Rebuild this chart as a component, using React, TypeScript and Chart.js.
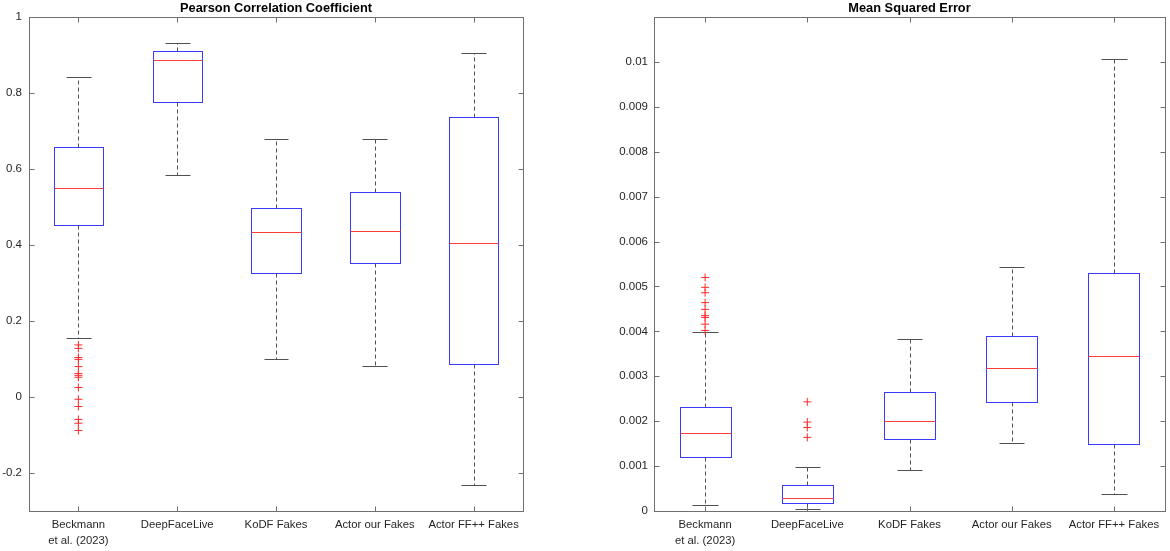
import React, { useEffect, useRef } from 'react';
import { Chart, registerables } from 'chart.js';

Chart.register(...registerables);

// ---------- data ----------
const CATEGORIES: (string | string[])[] = [
  ['Beckmann', 'et al. (2023)'],
  'DeepFaceLive',
  'KoDF Fakes',
  'Actor our Fakes',
  'Actor FF++ Fakes',
];

// Pearson correlation coefficient
const PCC_LOWER = [0.155, 0.585, 0.1, 0.081, -0.231];
const PCC_Q1 = [0.452, 0.777, 0.327, 0.353, 0.088];
const PCC_MEDIAN = [0.55, 0.886, 0.433, 0.438, 0.405];
const PCC_Q3 = [0.657, 0.911, 0.498, 0.54, 0.737];
const PCC_UPPER = [0.843, 0.931, 0.678, 0.679, 0.904];
const PCC_OUTLIERS = [
  [0.137, 0.128, 0.104, 0.099, 0.08, 0.062, 0.057, 0.052, 0.025, -0.006, -0.025, -0.059, -0.069, -0.088],
  [],
  [],
  [],
  [],
];
const PCC_TICKS = [-0.2, 0, 0.2, 0.4, 0.6, 0.8, 1];

// Mean squared error
const MSE_LOWER = [0.00013, 0.000053, 0.000907, 0.00151, 0.000374];
const MSE_Q1 = [0.001205, 0.000178, 0.0016, 0.00243, 0.00149];
const MSE_MEDIAN = [0.001737, 0.000296, 0.002, 0.00319, 0.00345];
const MSE_Q3 = [0.002317, 0.000586, 0.00264, 0.0039, 0.00529];
const MSE_UPPER = [0.003978, 0.000985, 0.00382, 0.00544, 0.01006];
const MSE_OUTLIERS = [
  [0.0052, 0.00498, 0.00486, 0.00464, 0.00449, 0.00435, 0.00431, 0.00416, 0.00402],
  [0.00243, 0.00198, 0.00186, 0.00164],
  [],
  [],
  [],
];
const MSE_TICKS = [0, 0.001, 0.002, 0.003, 0.004, 0.005, 0.006, 0.007, 0.008, 0.009, 0.01];

// ---------- styling ----------
const FONT = "'Liberation Sans', Arial, Helvetica, sans-serif";
const AXIS_COLOR = '#707070';
const TEXT_COLOR = '#262626';
const BOX_COLOR = '#3a3aff';
const MEDIAN_COLOR = '#ff3c3c';
const WHISKER_COLOR = '#505050';

interface BoxStats {
  lower: number[];
  q1: number[];
  median: number[];
  q3: number[];
  upper: number[];
}

const crisp = (v: number) => Math.round(v) + 0.5;

// draws boxes/whiskers through the chart scales, plus the MATLAB style frame
const boxPlotPlugin = {
  id: 'boxplot',
  beforeDatasetsDraw(chart: any, _args: any, opts: BoxStats) {
    const { ctx } = chart;
    const xs = chart.scales.x;
    const ys = chart.scales.y;
    ctx.save();
    ctx.lineWidth = 1;
    opts.median.forEach((_m, i) => {
      const c = i + 1;
      const xc = crisp(xs.getPixelForValue(c));
      const xl = crisp(xs.getPixelForValue(c - 0.25));
      const xr = crisp(xs.getPixelForValue(c + 0.25));
      const cl = crisp(xs.getPixelForValue(c - 0.125));
      const cr = crisp(xs.getPixelForValue(c + 0.125));
      const yLo = crisp(ys.getPixelForValue(opts.lower[i]));
      const yQ1 = crisp(ys.getPixelForValue(opts.q1[i]));
      const yMed = crisp(ys.getPixelForValue(opts.median[i]));
      const yQ3 = crisp(ys.getPixelForValue(opts.q3[i]));
      const yUp = crisp(ys.getPixelForValue(opts.upper[i]));

      // whiskers
      ctx.strokeStyle = WHISKER_COLOR;
      ctx.setLineDash([4, 3]);
      ctx.beginPath();
      ctx.moveTo(xc, yQ3);
      ctx.lineTo(xc, yUp);
      ctx.moveTo(xc, yQ1);
      ctx.lineTo(xc, yLo);
      ctx.stroke();
      ctx.setLineDash([]);
      ctx.beginPath();
      ctx.moveTo(cl, yUp);
      ctx.lineTo(cr, yUp);
      ctx.moveTo(cl, yLo);
      ctx.lineTo(cr, yLo);
      ctx.stroke();

      // box
      ctx.strokeStyle = BOX_COLOR;
      ctx.strokeRect(xl, yQ3, xr - xl, yQ1 - yQ3);

      // median
      ctx.strokeStyle = MEDIAN_COLOR;
      ctx.beginPath();
      ctx.moveTo(xl, yMed);
      ctx.lineTo(xr, yMed);
      ctx.stroke();
    });
    ctx.restore();
  },
  afterDraw(chart: any) {
    const { ctx, chartArea } = chart;
    const xs = chart.scales.x;
    const ys = chart.scales.y;
    const l = crisp(chartArea.left);
    const r = crisp(chartArea.right);
    const t = crisp(chartArea.top);
    const b = crisp(chartArea.bottom);
    const tl = 5;
    ctx.save();
    ctx.strokeStyle = AXIS_COLOR;
    ctx.lineWidth = 1;
    ctx.strokeRect(l, t, r - l, b - t);
    ctx.beginPath();
    ys.ticks.forEach((tk: any) => {
      const y = crisp(ys.getPixelForValue(tk.value));
      ctx.moveTo(l, y);
      ctx.lineTo(l + tl, y);
      ctx.moveTo(r, y);
      ctx.lineTo(r - tl, y);
    });
    xs.ticks.forEach((tk: any) => {
      const x = crisp(xs.getPixelForValue(tk.value));
      ctx.moveTo(x, b);
      ctx.lineTo(x, b - tl);
      ctx.moveTo(x, t);
      ctx.lineTo(x, t + tl);
    });
    ctx.stroke();
    ctx.restore();
  },
};

const fmt = (v: number) => String(Number(v.toFixed(4)));

interface BoxChartProps {
  title: string;
  stats: BoxStats;
  outliers: number[][];
  yTicks: number[];
  yMin: number;
  yMax: number;
  yWidth: number;
  yPad: number;
  padRight: number;
}

const BoxChart: React.FC<BoxChartProps> = ({ title, stats, outliers, yTicks, yMin, yMax, yWidth, yPad, padRight }) => {
  const canvasRef = useRef<HTMLCanvasElement>(null);

  useEffect(() => {
    if (!canvasRef.current) return;
    const points = outliers.flatMap((vals, i) => vals.map((v) => ({ x: i + 1, y: v })));
    const chart = new Chart(canvasRef.current, {
      type: 'scatter',
      data: {
        datasets: [
          {
            label: 'outliers',
            data: points,
            pointStyle: 'cross',
            radius: 4,
            hoverRadius: 4,
            borderColor: '#ff2a2a',
            backgroundColor: '#ff2a2a',
            borderWidth: 1,
          },
        ],
      },
      plugins: [boxPlotPlugin],
      options: {
        animation: false,
        responsive: true,
        maintainAspectRatio: false,
        events: [],
        layout: { padding: { left: 0, right: padRight, top: 0, bottom: 0 } },
        plugins: {
          legend: { display: false },
          tooltip: { enabled: false },
          title: {
            display: true,
            text: title,
            fullSize: false,
            color: '#000',
            font: { family: FONT, size: 12.8, weight: 'bold', lineHeight: 1.1 },
            padding: { top: 1.5, bottom: 1.4 },
          },
          boxplot: stats,
        } as any,
        scales: {
          x: {
            type: 'linear',
            min: 0.5,
            max: 5.5,
            grid: { display: false, drawTicks: false },
            border: { display: false },
            afterBuildTicks: (scale: any) => {
              scale.ticks = CATEGORIES.map((_, i) => ({ value: i + 1 }));
            },
            afterFit: (scale: any) => {
              scale.height = 40;
            },
            ticks: {
              autoSkip: false,
              maxRotation: 0,
              minRotation: 0,
              padding: 6,
              color: TEXT_COLOR,
              font: { family: FONT, size: 11.3, lineHeight: 1.38 },
              callback: (v: any) => CATEGORIES[Math.round(Number(v)) - 1] as any,
            },
          },
          y: {
            type: 'linear',
            min: yMin,
            max: yMax,
            grid: { display: false, drawTicks: false },
            border: { display: false },
            afterBuildTicks: (scale: any) => {
              scale.ticks = yTicks.map((v) => ({ value: v }));
            },
            afterFit: (scale: any) => {
              scale.width = yWidth;
            },
            ticks: {
              autoSkip: false,
              padding: yPad,
              color: TEXT_COLOR,
              font: { family: FONT, size: 11.5 },
              callback: (v: any) => fmt(Number(v)),
            },
          },
        },
      },
    });
    return () => chart.destroy();
  }, [title, stats, outliers, yTicks, yMin, yMax, yWidth, yPad, padRight]);

  return <canvas ref={canvasRef} />;
};

const PCC_STATS: BoxStats = { lower: PCC_LOWER, q1: PCC_Q1, median: PCC_MEDIAN, q3: PCC_Q3, upper: PCC_UPPER };
const MSE_STATS: BoxStats = { lower: MSE_LOWER, q1: MSE_Q1, median: MSE_MEDIAN, q3: MSE_Q3, upper: MSE_UPPER };

const App: React.FC = () => (
  <div style={{ position: 'fixed', left: 0, top: 0, width: 1170, height: 551, background: '#fff' }}>
    <div style={{ position: 'absolute', left: 0, top: 0, width: 540, height: 551 }}>
      <BoxChart
        title="Pearson Correlation Coefficient"
        stats={PCC_STATS}
        outliers={PCC_OUTLIERS}
        yTicks={PCC_TICKS}
        yMin={-0.3}
        yMax={1}
        yWidth={29}
        yPad={7}
        padRight={17}
      />
    </div>
    <div style={{ position: 'absolute', left: 590, top: 0, width: 580, height: 551 }}>
      <BoxChart
        title="Mean Squared Error"
        stats={MSE_STATS}
        outliers={MSE_OUTLIERS}
        yTicks={MSE_TICKS}
        yMin={0}
        yMax={0.011}
        yWidth={64}
        yPad={6}
        padRight={4}
      />
    </div>
  </div>
);

export default App;
